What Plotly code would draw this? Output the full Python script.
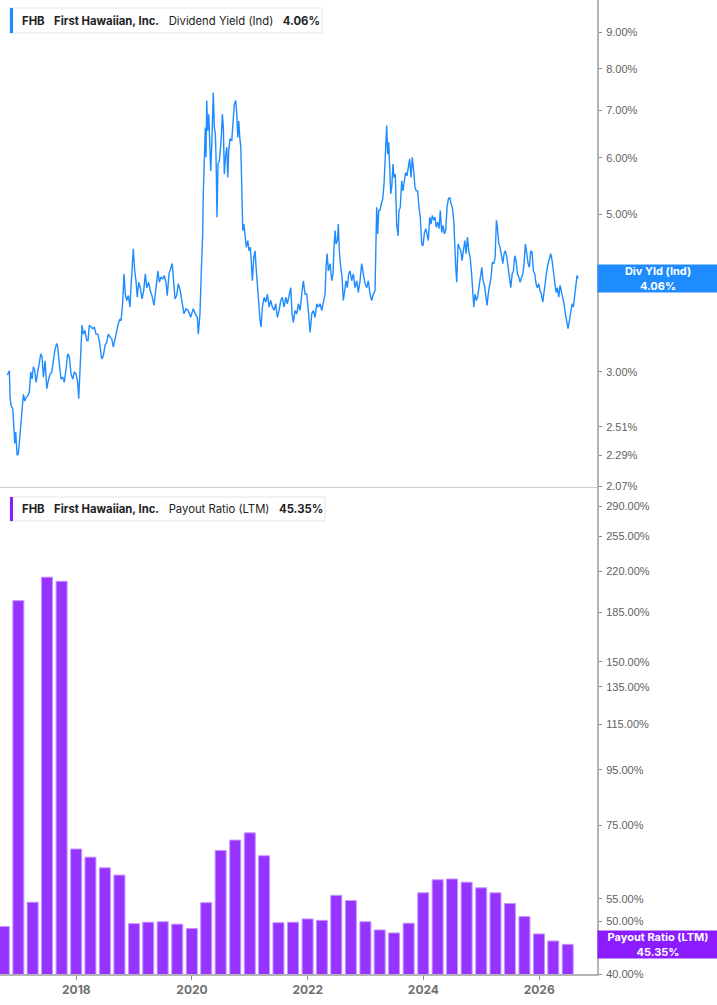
import numpy as np
import pandas as pd
import plotly.graph_objects as go
from plotly.subplots import make_subplots

# Dividend yield (Ind), %, dates as decimal years
yield_years = [
    2016.807, 2016.842, 2016.854, 2016.871, 2016.901, 2016.911, 2016.935, 2016.952, 2016.975, 2016.997,
    2017.027, 2017.044, 2017.061, 2017.084, 2017.108, 2017.130, 2017.165, 2017.187, 2017.212, 2017.234,
    2017.257, 2017.281, 2017.303, 2017.326, 2017.360, 2017.385, 2017.407, 2017.430, 2017.459, 2017.488,
    2017.516, 2017.545, 2017.575, 2017.602, 2017.632, 2017.661, 2017.678, 2017.706, 2017.735, 2017.765,
    2017.792, 2017.822, 2017.851, 2017.879, 2017.908, 2017.938, 2017.965, 2017.995, 2018.024, 2018.041,
    2018.064, 2018.081, 2018.098, 2018.121, 2018.150, 2018.180, 2018.202, 2018.225, 2018.254, 2018.283,
    2018.311, 2018.340, 2018.370, 2018.397, 2018.422, 2018.439, 2018.467, 2018.496, 2018.525, 2018.553,
    2018.582, 2018.612, 2018.639, 2018.669, 2018.698, 2018.726, 2018.755, 2018.773, 2018.802, 2018.824,
    2018.847, 2018.871, 2018.899, 2018.928, 2018.945, 2018.975, 2018.985, 2019.009, 2019.032, 2019.054,
    2019.079, 2019.106, 2019.136, 2019.165, 2019.193, 2019.217, 2019.251, 2019.279, 2019.308, 2019.343,
    2019.365, 2019.390, 2019.412, 2019.435, 2019.464, 2019.494, 2019.521, 2019.550, 2019.573, 2019.602,
    2019.632, 2019.659, 2019.677, 2019.706, 2019.735, 2019.763, 2019.792,
    2019.822, 2019.862, 2019.896, 2019.936, 2019.977, 2020.022, 2020.057, 2020.092, 2020.109, 2020.138,
    2020.161, 2020.185, 2020.195, 2020.213, 2020.230, 2020.242, 2020.254, 2020.271, 2020.289, 2020.306,
    2020.323, 2020.340, 2020.358, 2020.368, 2020.385, 2020.403, 2020.415, 2020.432, 2020.449, 2020.472,
    2020.489, 2020.506, 2020.524, 2020.541, 2020.558, 2020.576, 2020.600, 2020.617, 2020.634, 2020.657,
    2020.686, 2020.709, 2020.731, 2020.755, 2020.773, 2020.790, 2020.807, 2020.824, 2020.842, 2020.852,
    2020.864, 2020.876, 2020.894, 2020.916, 2020.939, 2020.963, 2020.985, 2021.008, 2021.025, 2021.042,
    2021.066, 2021.089, 2021.106, 2021.129, 2021.153, 2021.175, 2021.193, 2021.215, 2021.245, 2021.274,
    2021.302, 2021.331, 2021.360, 2021.388, 2021.417, 2021.447, 2021.474, 2021.504, 2021.533, 2021.561,
    2021.590, 2021.620, 2021.647, 2021.677, 2021.706, 2021.728, 2021.751, 2021.780, 2021.810, 2021.837,
    2021.867, 2021.896, 2021.924, 2021.953, 2021.983, 2022.010, 2022.040, 2022.069, 2022.097, 2022.126,
    2022.156, 2022.183, 2022.213, 2022.242, 2022.270, 2022.299, 2022.316, 2022.334, 2022.356, 2022.385,
    2022.415, 2022.437, 2022.454, 2022.472, 2022.489, 2022.512, 2022.529, 2022.546, 2022.570, 2022.593,
    2022.615, 2022.639, 2022.662, 2022.684, 2022.708, 2022.731, 2022.760, 2022.788, 2022.817, 2022.847,
    2022.875, 2022.904, 2022.933, 2022.961, 2022.990, 2023.020, 2023.047, 2023.077,
    2023.106, 2023.134, 2023.163, 2023.192, 2023.210, 2023.227, 2023.250, 2023.272, 2023.296, 2023.319,
    2023.336, 2023.353, 2023.365, 2023.383, 2023.400, 2023.417, 2023.435, 2023.452, 2023.474, 2023.492,
    2023.514, 2023.538, 2023.561, 2023.578, 2023.600, 2023.625, 2023.647, 2023.670, 2023.694, 2023.716,
    2023.739, 2023.763, 2023.786, 2023.808, 2023.832, 2023.855, 2023.877, 2023.901, 2023.924, 2023.946,
    2023.971, 2023.993, 2024.015, 2024.040, 2024.062, 2024.085, 2024.109, 2024.131, 2024.154, 2024.178,
    2024.200, 2024.223, 2024.247, 2024.270, 2024.292, 2024.316, 2024.339, 2024.361, 2024.385, 2024.408,
    2024.430, 2024.455, 2024.477, 2024.499, 2024.524, 2024.541, 2024.558, 2024.575, 2024.598, 2024.620,
    2024.645, 2024.667, 2024.690, 2024.714, 2024.737, 2024.759, 2024.783, 2024.806, 2024.828, 2024.852,
    2024.870, 2024.892, 2024.915, 2024.939, 2024.961, 2024.984, 2025.008, 2025.030, 2025.053, 2025.077,
    2025.099, 2025.122, 2025.146, 2025.168, 2025.191, 2025.215, 2025.238, 2025.260, 2025.277, 2025.302,
    2025.324, 2025.347, 2025.371, 2025.393, 2025.416, 2025.440, 2025.463, 2025.485, 2025.509, 2025.532,
    2025.554, 2025.578, 2025.601, 2025.623, 2025.647, 2025.670, 2025.692, 2025.717, 2025.739, 2025.761,
    2025.786, 2025.808, 2025.831, 2025.855, 2025.877, 2025.900, 2025.924, 2025.946, 2025.969, 2025.993,
    2026.015, 2026.038, 2026.062, 2026.085, 2026.107, 2026.131, 2026.154, 2026.176, 2026.200, 2026.223,
    2026.245, 2026.270, 2026.292, 2026.315, 2026.339, 2026.361, 2026.384, 2026.408, 2026.430, 2026.453,
    2026.477, 2026.499, 2026.522, 2026.546, 2026.569, 2026.591, 2026.615, 2026.638, 2026.655, 2026.672,
]
yield_pct = [
    2.97, 3.01, 2.76, 2.69, 2.66, 2.54, 2.38, 2.47, 2.29, 2.30,
    2.46, 2.51, 2.63, 2.79, 2.73, 2.76, 2.78, 2.81, 3.00, 2.93,
    3.05, 3.01, 2.90, 2.98, 3.08, 3.18, 3.15, 2.95, 3.11, 2.84,
    2.92, 2.98, 3.00, 3.11, 3.23, 3.29, 3.25, 3.08, 2.93, 2.95,
    2.90, 3.03, 3.18, 3.15, 2.98, 2.93, 3.00, 2.98, 2.89, 2.75,
    3.08, 3.36, 3.49, 3.39, 3.43, 3.32, 3.32, 3.49, 3.47, 3.45,
    3.47, 3.39, 3.39, 3.32, 3.20, 3.13, 3.16, 3.27, 3.30, 3.39,
    3.36, 3.34, 3.25, 3.34, 3.43, 3.51, 3.56, 3.54, 3.76, 4.12,
    3.86, 3.78, 3.84, 3.70, 3.94, 4.26, 4.47, 4.16, 4.03, 3.82,
    4.01, 3.94, 3.80, 3.90, 4.12, 3.94, 4.01, 3.90, 3.84, 3.72,
    3.86, 3.94, 4.16, 4.01, 4.08, 4.05, 4.10, 4.01, 3.84, 4.12,
    4.19, 4.26, 4.08, 3.80, 3.84, 3.99, 3.92,
    3.78, 3.62, 3.68, 3.66, 3.58, 3.68, 3.62, 3.58, 3.39, 3.62,
    4.16, 4.69, 5.34, 5.88, 6.62, 6.01, 7.22, 6.55, 6.91, 6.34,
    5.75, 6.21, 7.06, 7.41, 6.62, 6.48, 6.01, 4.95, 5.88, 5.94,
    6.17, 6.41, 6.91, 6.62, 5.69, 6.01, 6.21, 5.63, 6.14, 6.38,
    6.34, 6.69, 7.14, 7.22, 6.91, 6.41, 6.76, 6.41, 6.21, 5.75,
    5.11, 4.74, 4.84, 4.64, 4.49, 4.59, 4.44, 4.49, 4.12, 4.03,
    4.35, 4.44, 4.21, 3.94, 3.70, 3.54, 3.47, 3.70, 3.82, 3.76,
    3.86, 3.70, 3.78, 3.70, 3.66, 3.74, 3.58, 3.66, 3.78, 3.82,
    3.70, 3.82, 3.74, 3.86, 3.94, 3.62, 3.52, 3.66, 3.62, 3.74,
    3.66, 3.86, 4.03, 3.86, 3.86, 3.66, 3.41, 3.62, 3.66, 3.58,
    3.74, 3.70, 3.74, 3.66, 3.78, 3.86, 4.21, 4.40, 4.16, 4.26,
    4.03, 4.12, 4.49, 4.74, 4.54, 4.59, 4.84, 4.44, 4.21, 4.08,
    3.78, 3.94, 4.03, 3.94, 4.12, 4.16, 4.03, 4.12, 3.94, 4.03,
    3.88, 4.03, 4.26, 4.12, 3.99, 3.94, 4.03, 3.86,
    3.78, 3.86, 3.90, 5.11, 4.69, 5.06, 5.06, 5.17, 5.25, 5.51,
    6.14, 6.34, 6.66, 6.07, 6.31, 5.75, 5.34, 5.45, 5.88, 5.63,
    5.69, 4.84, 4.66, 5.06, 5.11, 5.57, 5.39, 5.57, 5.72, 5.66,
    5.82, 5.98, 5.63, 6.01, 5.75, 5.45, 5.39, 5.39, 5.11, 4.95,
    4.54, 4.51, 4.69, 4.77, 4.69, 4.59, 4.95, 4.84, 4.98, 4.90,
    4.95, 4.79, 4.87, 4.77, 5.06, 4.71, 4.82, 4.69, 4.74, 5.11,
    5.25, 5.28, 5.17, 5.11, 4.90, 4.35, 4.21, 4.01, 4.54, 4.49,
    4.44, 4.30, 4.44, 4.59, 4.40, 4.64, 4.44, 4.35, 4.16, 3.94,
    3.70, 3.86, 3.78, 3.84, 3.99, 4.08, 4.21, 4.03, 3.97, 3.86,
    3.72, 3.88, 3.97, 4.08, 4.28, 4.26, 4.35, 4.90, 4.79, 4.54,
    4.49, 4.35, 4.26, 4.40, 4.44, 4.35, 4.21, 4.08, 3.94, 4.12,
    4.16, 4.37, 4.30, 4.12, 4.08, 4.01, 4.08, 4.12, 4.26, 4.54,
    4.40, 4.26, 4.21, 4.44, 4.42, 4.16, 4.12, 3.99, 3.94, 3.99,
    3.90, 3.86, 3.76, 3.90, 4.03, 4.16, 4.26, 4.35, 4.40, 4.30,
    4.16, 3.94, 3.88, 3.94, 3.82, 3.97, 3.90, 3.82, 3.74, 3.62,
    3.52, 3.45, 3.54, 3.66, 3.74, 3.70, 3.82, 3.99, 4.10, 4.06,
]

# Payout ratio (LTM), %, one bar per quarter end
payout_quarters = [f"{y}-{md}" for y in range(2016, 2027)
                   for md in ("03-31", "06-30", "09-30", "12-31")][2:42]
payout_pct = [
    48.9, 194.3, 54.2, 214.6, 210.9, 67.9, 65.6, 62.7, 60.8, 49.5,
    49.8, 49.9, 49.4, 48.5, 54.1, 67.5, 70.5, 72.7, 66.0, 49.7,
    49.8, 50.5, 50.2, 55.8, 54.6, 49.9, 48.2, 47.6, 49.6, 56.4,
    59.6, 59.8, 59.0, 57.6, 56.4, 53.9, 51.0, 47.4, 46.0, 45.35,
]

yield_ticks = [2.07, 2.29, 2.51, 3.00, 4.00, 5.00, 6.00, 7.00, 8.00, 9.00]
payout_ticks = [40, 50, 55, 75, 95, 115, 135, 150, 185, 220, 255, 290]

BLUE = "#1E8CFF"
PURPLE = "#9633FF"
PURPLE_LABEL = "#8A1CFF"
AXIS_GREY = "#b4b4b4"
TICK_FONT = dict(family="Liberation Sans, Arial", size=11, color="#5f5f5f")
LEGEND_FONT = dict(family="Inter", size=11.3, color="#222222")


def to_date(y):
    year = int(y)
    start = pd.Timestamp(year=year, month=1, day=1)
    end = pd.Timestamp(year=year + 1, month=1, day=1)
    return start + (end - start) * (y - year)


yield_dates = [to_date(y) for y in yield_years]

fig = make_subplots(rows=2, cols=1, shared_xaxes=True, vertical_spacing=0)

fig.add_trace(go.Scatter(x=yield_dates, y=yield_pct, mode="lines",
                         line=dict(color=BLUE, width=1.4), hoverinfo="skip"),
              row=1, col=1)
fig.add_trace(go.Bar(x=payout_quarters, y=payout_pct, width=6.0e9,
                     marker=dict(color=PURPLE, line=dict(color="#c594ff", width=1)),
                     hoverinfo="skip"),
              row=2, col=1)

x_range = ["2016-09-06", "2027-01-01"]

fig.update_layout(
    width=717, height=1005,
    margin=dict(l=0, r=120, t=0, b=31),
    paper_bgcolor="white", plot_bgcolor="white",
    showlegend=False,
    font=dict(family="Inter, Liberation Sans, Arial"),
    xaxis=dict(range=x_range, showgrid=False, zeroline=False, showticklabels=False,
               showline=True, linecolor="#cfcfcf", linewidth=1, ticks=""),
    xaxis2=dict(range=x_range, showgrid=False, zeroline=False,
                showline=True, linecolor=AXIS_GREY, linewidth=2,
                ticks="outside", ticklen=4, tickcolor="#8a8a8a",
                tick0="2018-01-01", dtick="M24", tickformat="%Y",
                tickfont=dict(family="Inter", size=12, color="#707070", weight="bold")),
    yaxis=dict(type="log", range=[np.log10(2.07), np.log10(10)], domain=[0.5005, 1],
               side="right", showgrid=False, zeroline=False,
               showline=True, linecolor=AXIS_GREY, linewidth=2,
               ticks="outside", ticklen=3, tickcolor="#8a8a8a", ticklabelstandoff=2,
               tickvals=yield_ticks, ticktext=[f"{v:.2f}%" for v in yield_ticks],
               tickfont=TICK_FONT),
    yaxis2=dict(type="log", range=[np.log10(40), np.log10(315)], domain=[0, 0.5005],
                side="right", showgrid=False, zeroline=False,
                showline=True, linecolor=AXIS_GREY, linewidth=2,
                ticks="outside", ticklen=3, tickcolor="#8a8a8a", ticklabelstandoff=2,
                tickvals=payout_ticks, ticktext=[f"{v:.2f}%" for v in payout_ticks],
                tickfont=TICK_FONT),
)

# legend boxes in the top-left corner of each panel
for y0, y1, x1, color in [(0.96612, 0.99179, 0.53936, BLUE),
                          (0.46509, 0.48973, 0.54439, PURPLE_LABEL)]:
    fig.add_shape(type="rect", xref="paper", yref="paper", x0=0.01675, x1=x1, y0=y0, y1=y1,
                  fillcolor="white", line=dict(color="#e4e4e4", width=1), layer="above")
    fig.add_shape(type="rect", xref="paper", yref="paper", x0=0.01675, x1=0.0218, y0=y0, y1=y1,
                  fillcolor=color, line=dict(width=0), layer="above")

fig.add_annotation(xref="paper", yref="paper", x=0.0335, y=0.97895, xanchor="left", yanchor="middle",
                   showarrow=False, font=LEGEND_FONT,
                   text="<b>FHB</b>   <b>First Hawaiian, Inc.</b>   Dividend Yield (Ind)   <b>4.06%</b>")
fig.add_annotation(xref="paper", yref="paper", x=0.0335, y=0.47741, xanchor="left", yanchor="middle",
                   showarrow=False, font=LEGEND_FONT,
                   text="<b>FHB</b>   <b>First Hawaiian, Inc.</b>   Payout Ratio (LTM)   <b>45.35%</b>")

# last-value labels on the right axes
fig.add_annotation(xref="paper", yref="y", x=1, y=np.log10(yield_pct[-1]), xanchor="left", yanchor="middle",
                   showarrow=False, bgcolor=BLUE, width=116, height=23, borderpad=2, align="center",
                   font=dict(family="Inter", size=11, color="white", weight="bold"),
                   text=f"Div Yld (Ind)<br>{yield_pct[-1]:.2f}%")
fig.add_annotation(xref="paper", yref="y2", x=1, y=np.log10(payout_pct[-1]), xanchor="left", yanchor="middle",
                   showarrow=False, bgcolor=PURPLE_LABEL, width=116, height=23, borderpad=2, align="center",
                   font=dict(family="Inter", size=11, color="white", weight="bold"),
                   text=f"Payout Ratio (LTM)<br>{payout_pct[-1]:.2f}%")

# the page body has a default 8px margin; drop it so the chart sits at the window corner
fig.write_html("out.html", config={"displayModeBar": False},
               post_script="document.body.style.margin = '0';")
